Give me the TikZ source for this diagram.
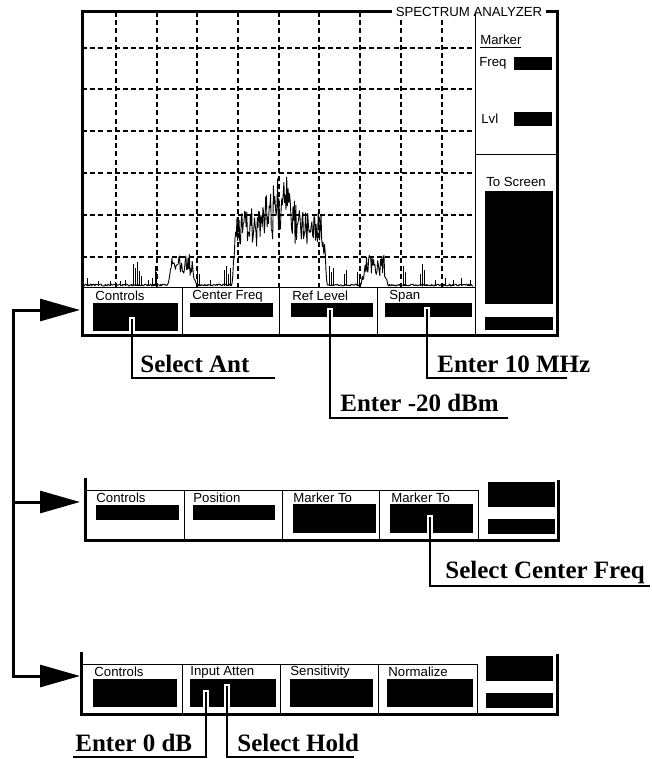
\documentclass[tikz,border=0pt]{standalone}
\usepackage{fontspec}
\setmainfont{Liberation Serif}
\setsansfont{Liberation Sans}
\usetikzlibrary{arrows.meta, positioning, calc, fit}

\begin{document}
\pgfmathsetseed{17}
\begin{tikzpicture}[
      x=0.5pt, y=-0.5pt,
      frame/.style={line width=1.5pt},
      thinline/.style={line width=0.5pt},
      grid/.style={line width=0.6pt, dash pattern=on 2.5pt off 1.6pt},
      trace/.style={line width=0.45pt, line join=round},
      keybox/.style={fill=black, draw=none, inner sep=0pt},
      keylabel/.style={font=\sffamily\fontsize{6.6}{7}\selectfont, anchor=west, inner sep=0pt},
      panelnote/.style={font=\sffamily\fontsize{6.6}{7}\selectfont, inner sep=0pt},
      callout/.style={font=\bfseries\fontsize{12.5}{14}\selectfont, anchor=base west, inner sep=0pt},
      callline/.style={line width=1pt},
      halo/.style={white, line width=3pt, shorten <=-1pt},
      feed/.style={line width=1.5pt, line cap=rect, -{Triangle[length=20pt, width=11pt]}},
      declare function={
        ramp(\xx,\lo,\hi)=min(1,max(0,(\xx-\lo)/4),max(0,(\hi-\xx)/4));
        peak(\xx)=max(0,1-abs(\xx-279)/22);
        spec(\xx)=ramp(\xx,232,327)*(38+38*rnd)+peak(\xx)*(10+45*rnd)
                 +ramp(\xx,168,196)*(10+20*rnd)+ramp(\xx,361,388)*(10+20*rnd)+2*rnd;
      }]

    \useasboundingbox (0,0) rectangle (652,759);

    % ── Screen ──
    \foreach \gx in {116,157,197,238,279,319,360,401,442}
      \draw[grid] (\gx,12) -- (\gx,287);
    \foreach \gy in {48,89,131,173,215,257}
      \draw[grid] (82,\gy) -- (475,\gy);

    % spectrum trace
    \draw[trace] (83,286) \foreach \px in {83.7,84.4,...,473} { -- (\px,{286-spec(\px)}) };
    \foreach \sx/\sh in {87/8, 98/5, 110/5, 115/4, 120/5, 125/6, 133/22, 135/18, 137/24,
        139/15, 141/10, 148/6, 152/8, 155/20, 156/14, 197/18, 199/12, 210/6, 224/16,
        226/20, 228/12, 230/18, 329/20, 331/14, 333/18, 344/12, 346/16, 357/14, 359/10,
        403/20, 405/14, 420/12, 422/22, 424/16, 435/6, 445/8, 453/6, 461/8, 470/6}
      \draw[trace] (\sx,286) -- ++(0,-\sh);

    \draw[frame] (82,12) rectangle (557,335);
    \node[panelnote, fill=white, inner xsep=2pt, inner ysep=1pt] (title) at (469,12) {SPECTRUM ANALYZER};
    \draw[thinline] (82,287) -- (475,287);
    \draw[thinline] (475,12) -- (475,335);
    \draw[thinline] (475,155) -- (557,155);
    \foreach \dx in {182,279,377}
      \draw[thinline] (\dx,287) -- (\dx,335);

    % ── Marker panel ──
    \node[panelnote, anchor=west] (marker) at (480,42) {\underline{Marker}};
    \node[panelnote, anchor=west] (freq) at (479,63) {Freq};
    \node[keybox, fit={(514,57) (552,70)}] (freqbox) {};
    \node[panelnote, anchor=west] (lvl) at (481,119) {Lvl};
    \node[keybox, fit={(514,112) (552,126)}] (lvlbox) {};
    \node[panelnote] (toscr) at (516,182) {To Screen};
    \node[keybox, fit={(485,191) (553,304)}] (scrbox) {};
    \node[keybox, fit={(485,317) (553,330)}] (scrbox2) {};

    % ── Soft keys, first menu ──
    \node[keylabel] (ctl1) at (95,296) {Controls};
    \node[keylabel] (cf1) at (192,296) {Center Freq};
    \node[keylabel] (ref1) at (292,296) {Ref Level};
    \node[keylabel] (span1) at (389,296) {Span};
    \node[keybox, fit={(93,303) (178,331)}] (ctlbox1) {};
    \node[keybox, fit={(190,303) (273,317)}] (cfbox1) {};
    \node[keybox, fit={(291,303) (373,317)}] (refbox1) {};
    \node[keybox, fit={(385,303) (472,317)}] (spanbox1) {};

    % ── Second menu ──
    \draw[frame] (85,478) -- (85,540) -- (558,540) -- (558,480);
    \draw[thinline] (85,490) -- (478,490);
    \foreach \dx in {184,282,379,478}
      \draw[thinline] (\dx,490) -- (\dx,540);
    \node[keylabel] (ctl2) at (96,498) {Controls};
    \node[keylabel] (pos2) at (193,498) {Position};
    \node[keylabel] (mka2) at (293,498) {Marker To};
    \node[keylabel] (mkb2) at (391,498) {Marker To};
    \node[keybox, fit={(96,505) (179,520)}] (ctlbox2) {};
    \node[keybox, fit={(193,505) (275,520)}] (posbox2) {};
    \node[keybox, fit={(293,504) (376,533)}] (mkabox2) {};
    \node[keybox, fit={(390,504) (473,533)}] (mkbbox2) {};
    \node[keybox, fit={(488,482) (555,507)}] (rbox2) {};
    \node[keybox, fit={(488,519) (555,534)}] (rboxb2) {};

    % ── Third menu ──
    \draw[frame] (81,652) -- (81,714) -- (557,714) -- (557,654);
    \draw[thinline] (81,664) -- (477,664);
    \foreach \dx in {182,280,378,477}
      \draw[thinline] (\dx,664) -- (\dx,714);
    \node[keylabel] (ctl3) at (94,672) {Controls};
    \node[keylabel] (att3) at (190,672) {Input Atten};
    \node[keylabel] (sens3) at (290,672) {Sensitivity};
    \node[keylabel] (norm3) at (388,672) {Normalize};
    \node[keybox, fit={(93,679) (177,707)}] (ctlbox3) {};
    \node[keybox, fit={(190,679) (276,707)}] (attbox3) {};
    \node[keybox, fit={(290,679) (373,707)}] (sensbox3) {};
    \node[keybox, fit={(387,679) (473,707)}] (normbox3) {};
    \node[keybox, fit={(486,656) (553,681)}] (rbox3) {};
    \node[keybox, fit={(486,693) (553,708)}] (rboxb3) {};

    % ── Feed arrows ──
    \coordinate (spine) at (13,310);
    \coordinate (tip1) at (80,310);
    \coordinate (tip2) at (80,502);
    \coordinate (tip3) at (80,676);
    \draw[feed] (spine) -- (tip1);
    \draw[feed] (spine |- tip2) -- (tip2);
    \draw[feed] (spine) |- (tip3);

    % ── Callouts ──
    \coordinate (n1) at (132,319);  \coordinate (u1) at (275,378);
    \coordinate (n2) at (330,310);  \coordinate (u2) at (508,418);
    \coordinate (n3) at (427,309);  \coordinate (u3) at (567,378);
    \coordinate (n4) at (430,517);  \coordinate (u4) at (650,586);
    \coordinate (n5) at (206,692);  \coordinate (u5) at (73,757);
    \coordinate (n6) at (227,686);  \coordinate (u6) at (354,757);

    \draw[halo] (n1) -- (n1 |- ctlbox1.south);
    \draw[halo] (n2) -- (n2 |- refbox1.south);
    \draw[halo] (n3) -- (n3 |- spanbox1.south);
    \draw[halo] (n4) -- (n4 |- mkbbox2.south);
    \draw[halo] (n5) -- (n5 |- attbox3.south);
    \draw[halo] (n6) -- (n6 |- attbox3.south);

    \node[callout] (selant) at (140,372) {Select Ant};
    \node[callout] (ent20) at (340,411) {Enter -20 dBm};
    \node[callout] (ent10) at (437,372) {Enter 10 MHz};
    \node[callout] (selcf) at (445,578) {Select Center Freq};
    \node[callout] (ent0) at (75,751) {Enter 0 dB};
    \node[callout] (selhold) at (237,751) {Select Hold};

    \draw[callline] (n1) |- (u1);
    \draw[callline] (n2) |- (u2);
    \draw[callline] (n3) |- (u3);
    \draw[callline] (n4) |- (u4);
    \draw[callline] (n5) |- (u5);
    \draw[callline] (n6) |- (u6);

  \end{tikzpicture}
\end{document}
